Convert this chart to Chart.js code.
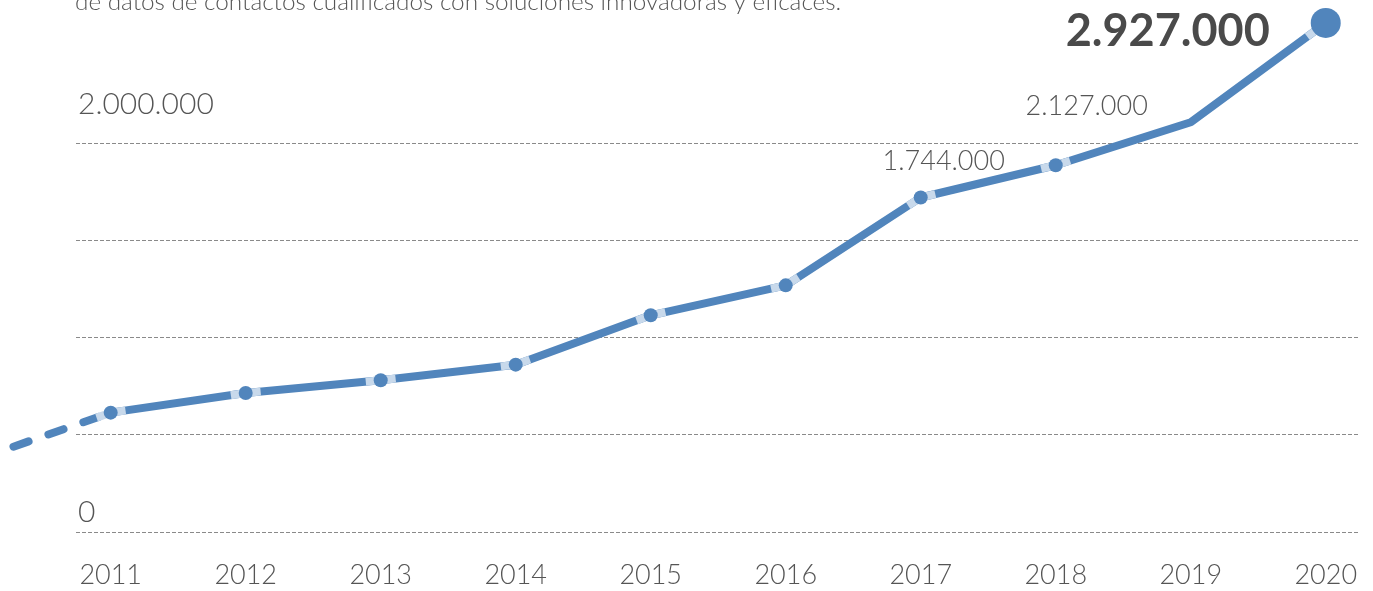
<!DOCTYPE html>
<html><head><meta charset="utf-8">
<script src="https://cdn.jsdelivr.net/npm/chart.js@4/dist/chart.umd.min.js"></script>
<style>
html,body{margin:0;padding:0;background:#fff;overflow:hidden}
canvas{display:block}
</style></head><body>
<canvas id="c" width="1373" height="591"></canvas>
<script>
// ---- data ----
const subtitle = 'de datos de contactos cualificados con soluciones innovadoras y eficaces.';
const years = [2011, 2012, 2013, 2014, 2015, 2016, 2017, 2018, 2019, 2020];
const values = [614000, 715000, 781000, 861000, 1115000, 1269000, 1721000, 1887000, 2108000, 2619000];
const markerRadius = [7, 7, 7, 7, 7, 7, 7, 7, 0, 15];
const leadInYears = [2010.28, 2011];
const leadInValues = [439000, 614000];
const gridValues = [0, 500000, 1000000, 1500000, 2000000];
const yLabelValues = [0, 2000000];
const annotationYears = [2017, 2019, 2020];
const annotationTexts = ['1.744.000', '2.127.000', '2.927.000'];

const BLUE = '#5185bc';
const LIGHT = '#c8d9eb';
const TEXT = '#555555';
const FONT = "Lato, 'Open Sans', sans-serif";
const LW = 8;

function fmt(v){ return String(v).replace(/\B(?=(\d{3})+(?!\d))/g, '.'); }

const haloPlugin = {
  id: 'halo',
  afterDatasetDraw(chart, args){
    if (args.index !== 1) return;
    const ctx = chart.ctx;
    const pts = chart.getDatasetMeta(1).data;
    const lead = chart.getDatasetMeta(0).data;
    ctx.save();
    ctx.strokeStyle = LIGHT; ctx.lineWidth = LW; ctx.lineCap = 'butt';
    pts.forEach((p, i) => {
      const r = markerRadius[i]; if (!r) return;
      const nb = [i > 0 ? pts[i-1] : lead[0]];
      if (i < pts.length - 1) nb.push(pts[i+1]);
      nb.forEach(q => {
        const dx = q.x - p.x, dy = q.y - p.y, d = Math.hypot(dx, dy), L = r + 8;
        ctx.beginPath(); ctx.moveTo(p.x, p.y); ctx.lineTo(p.x + dx/d*L, p.y + dy/d*L); ctx.stroke();
      });
    });
    ctx.restore();
  }
};

const textPlugin = {
  id: 'texts',
  afterDraw(chart){
    const ctx = chart.ctx;
    const pts = chart.getDatasetMeta(2).data;
    ctx.save();
    ctx.font = "300 100px " + FONT;
    const w100 = ctx.measureText(subtitle).width;
    const size = 100 * 767 / w100;
    ctx.font = "300 " + size + "px " + FONT;
    ctx.fillStyle = TEXT; ctx.textAlign = 'left'; ctx.textBaseline = 'alphabetic';
    ctx.fillText(subtitle, 75, 10);
    const specs = [
      {dx: 23, dy: -28, align: 'center', font: "300 27px " + FONT, color: TEXT},
      {dx: -104, dy: -7, align: 'center', font: "300 27px " + FONT, color: TEXT},
      {dx: -56, dy: 23, align: 'right', font: "bold 45px " + FONT, color: '#4a4a4a'}
    ];
    annotationYears.forEach((yr, k) => {
      const p = pts[years.indexOf(yr)];
      const s = specs[k];
      ctx.font = s.font; ctx.fillStyle = s.color; ctx.textAlign = s.align;
      ctx.fillText(annotationTexts[k], p.x + s.dx, p.y + s.dy);
    });
    ctx.restore();
  }
};

new Chart(document.getElementById('c'), {
  type: 'line',
  data: {
    datasets: [
      {
        data: leadInYears.map((x, i) => ({x, y: leadInValues[i]})),
        borderColor: BLUE, borderWidth: LW, borderDash: [16, 21], borderCapStyle: 'round',
        pointRadius: 0, clip: false, order: 3
      },
      {
        data: years.map((x, i) => ({x, y: values[i]})),
        borderColor: BLUE, borderWidth: LW, borderJoinStyle: 'round',
        pointRadius: 0, clip: false, order: 2, tension: 0
      },
      {
        data: years.map((x, i) => ({x, y: values[i]})),
        showLine: false, pointRadius: markerRadius, pointBackgroundColor: BLUE,
        pointBorderWidth: 0, pointHoverRadius: markerRadius, clip: false, order: 1
      }
    ]
  },
  options: {
    responsive: false, animation: false,
    layout: {padding: {left: 76, right: 13, top: 0, bottom: 0}},
    plugins: {legend: {display: false}, tooltip: {enabled: false}},
    scales: {
      x: {
        type: 'linear', min: 2010.743, max: 2020.239,
        afterBuildTicks(axis){ axis.ticks = years.map(v => ({value: v})); },
        afterFit(axis){ axis.height = 59; axis.paddingLeft = 0; axis.paddingRight = 0; },
        grid: {display: false, drawTicks: false}, border: {display: false},
        ticks: {padding: 27, color: TEXT, font: {family: FONT, size: 27, weight: '300'}, maxRotation: 0,
                autoSkip: false, callback: v => String(v)}
      },
      y: {
        min: 0, max: 2660000,
        afterBuildTicks(axis){ axis.ticks = gridValues.map(v => ({value: v})); },
        afterFit(axis){ axis.width = 0; axis.paddingTop = 0; axis.paddingBottom = 0; },
        grid: {color: '#8a8a8a', lineWidth: 1, drawTicks: false},
        border: {display: false, dash: [4, 2]},
        ticks: {
          mirror: true, padding: 2, labelOffset: -20, color: TEXT,
          font: {family: FONT, size: 30, weight: '300', lineHeight: 1.27},
          callback: v => yLabelValues.includes(v) ? (v === 0 ? fmt(v) : [fmt(v), '']) : ''
        }
      }
    }
  },
  plugins: [haloPlugin, textPlugin]
});
</script>
</body></html>
